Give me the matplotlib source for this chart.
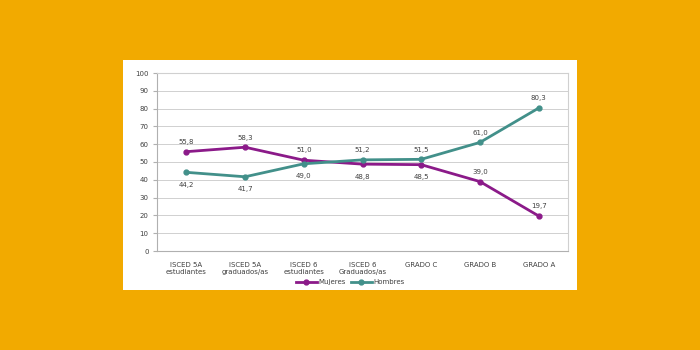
import matplotlib.pyplot as plt
from matplotlib.patches import Rectangle

categories = ["ISCED 5A\nestudiantes", "ISCED 5A\ngraduados/as", "ISCED 6\nestudiantes",
              "ISCED 6\nGraduados/as", "GRADO C", "GRADO B", "GRADO A"]
mujeres = [55.8, 58.3, 51.0, 48.8, 48.5, 39.0, 19.7]
hombres = [44.2, 41.7, 49.0, 51.2, 51.5, 61.0, 80.3]
# label placement: True = above the point
mujeres_above = [True, True, True, False, False, True, True]
hombres_above = [False, False, False, True, True, True, True]

BG = "#F2AA00"
PURPLE = "#8B1A89"
TEAL = "#42908A"
TXT = "#404040"

fig = plt.figure(figsize=(7, 3.5), dpi=100, facecolor=BG)
# white chart panel, behind the axes
fig.patches.append(Rectangle((123 / 700, 60 / 350), 454 / 700, 230 / 350,
                             transform=fig.transFigure, facecolor="white",
                             edgecolor="none", zorder=-1))

ax = fig.add_axes([157 / 700, 99 / 350, 411 / 700, 178 / 350])
ax.set_facecolor("white")
x = list(range(len(categories)))

ax.plot(x, mujeres, color=PURPLE, lw=2, marker="o", ms=3.5, label="Mujeres", zorder=3)
ax.plot(x, hombres, color=TEAL, lw=2, marker="o", ms=3.5, label="Hombres", zorder=3)

for xi, v, up in zip(x, mujeres, mujeres_above):
    ax.annotate(f"{v:.1f}".replace(".", ","), (xi, v), xytext=(0, 7 if up else -9),
                textcoords="offset points", ha="center", va="center", fontsize=5, color=TXT)
for xi, v, up in zip(x, hombres, hombres_above):
    ax.annotate(f"{v:.1f}".replace(".", ","), (xi, v), xytext=(0, 7 if up else -9),
                textcoords="offset points", ha="center", va="center", fontsize=5, color=TXT)

ax.set_xlim(-0.5, len(categories) - 0.5)
ax.set_ylim(0, 100)
ax.set_yticks(range(0, 101, 10))
ax.set_xticks(x)
ax.set_xticklabels(categories)
ax.tick_params(axis="both", labelsize=5, colors=TXT, pad=3)
ax.tick_params(axis="y", length=3, color="#B0B0B0")
ax.tick_params(axis="x", length=0, pad=8)
ax.grid(axis="y", color="#D0D0D0", lw=0.7)
ax.set_axisbelow(True)
ax.spines["top"].set_color("#D0D0D0")
ax.spines["right"].set_color("#D0D0D0")
ax.spines["left"].set_color("#B0B0B0")
ax.spines["bottom"].set_color("#B0B0B0")

fig.legend(loc="center", bbox_to_anchor=(350 / 700, 1 - 282 / 350), ncol=2, fontsize=5,
           frameon=False, handlelength=3, columnspacing=0.8, handletextpad=0.2,
           labelcolor=TXT)

fig.savefig("out.png", dpi=100, facecolor=BG)
